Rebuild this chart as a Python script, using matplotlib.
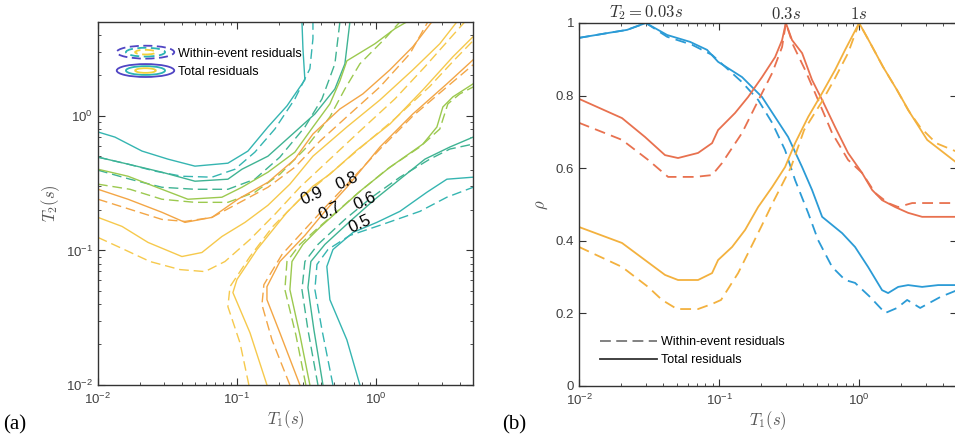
import numpy as np
import matplotlib
matplotlib.use("Agg")
import matplotlib.pyplot as plt
import matplotlib.transforms as mtransforms
from matplotlib.lines import Line2D
from matplotlib.patches import Ellipse
from matplotlib.legend_handler import HandlerBase
from matplotlib.ticker import LogLocator, NullFormatter, FixedLocator, FuncFormatter

plt.rcParams["font.family"] = ["Liberation Sans", "DejaVu Sans"]
plt.rcParams["mathtext.fontset"] = "cm"

# ---------------- panel (a): contour lines, points are (log10 T1, log10 T2)
total_05_upper = [(-2.0, -0.119), (-1.878, -0.157), (-1.683, -0.261), (-1.496, -0.321), (-1.302, -0.373),
                  (-1.065, -0.351), (-0.921, -0.261), (-0.777, -0.082), (-0.640, 0.075), (-0.511, 0.269),
                  (-0.525, 0.500), (-0.532, 0.70)]
within_05_upper = [(-2.0, -0.306), (-1.784, -0.358), (-1.590, -0.410), (-1.396, -0.448), (-1.180, -0.455),
                   (-1.014, -0.396), (-0.871, -0.269), (-0.727, -0.097), (-0.583, 0.127), (-0.475, 0.351),
                   (-0.453, 0.575), (-0.453, 0.70)]
total_06_upper = [(-2.0, -0.306), (-1.784, -0.358), (-1.540, -0.418), (-1.302, -0.485), (-1.065, -0.470),
                  (-0.964, -0.396), (-0.777, -0.299), (-0.583, -0.119), (-0.439, 0.015), (-0.295, 0.201),
                  (-0.223, 0.388), (-0.187, 0.70)]
within_06_upper = [(-2.0, -0.403), (-1.770, -0.470), (-1.540, -0.530), (-1.302, -0.545), (-1.065, -0.545),
                   (-0.871, -0.470), (-0.691, -0.306), (-0.511, -0.082), (-0.388, 0.127), (-0.295, 0.388),
                   (-0.259, 0.70)]
total_07_upper = [(-2.0, -0.396), (-1.784, -0.448), (-1.540, -0.545), (-1.353, -0.619), (-1.108, -0.604),
                  (-0.964, -0.530), (-0.777, -0.418), (-0.583, -0.269), (-0.453, -0.082), (-0.331, 0.090),
                  (-0.259, 0.261), (-0.209, 0.410), (-0.007, 0.537), (0.137, 0.649), (0.223, 0.70)]
within_07_upper = [(-2.0, -0.507), (-1.770, -0.545), (-1.540, -0.619), (-1.302, -0.642), (-1.065, -0.642),
                   (-0.871, -0.567), (-0.691, -0.433), (-0.511, -0.246), (-0.331, -0.007), (-0.223, 0.201),
                   (-0.115, 0.388), (0.065, 0.575), (0.173, 0.70)]
total_08_upper = [(-2.0, -0.545), (-1.784, -0.619), (-1.540, -0.716), (-1.374, -0.791), (-1.180, -0.754),
                  (-0.993, -0.619), (-0.777, -0.493), (-0.583, -0.321), (-0.453, -0.134), (-0.259, 0.052),
                  (-0.094, 0.164), (0.101, 0.343), (0.266, 0.515), (0.403, 0.70)]
within_08_upper = [(-2.0, -0.619), (-1.770, -0.694), (-1.540, -0.769), (-1.374, -0.784), (-1.180, -0.754),
                   (-0.978, -0.642), (-0.777, -0.530), (-0.583, -0.381), (-0.403, -0.187), (-0.187, 0.015),
                   (0.029, 0.216), (0.245, 0.463), (0.374, 0.70)]
total_09_upper = [(-2.0, -0.754), (-1.827, -0.821), (-1.640, -0.940), (-1.396, -1.045), (-1.252, -1.015),
                  (-1.108, -0.896), (-0.942, -0.791), (-0.777, -0.664), (-0.619, -0.507), (-0.453, -0.299),
                  (-0.209, -0.082), (0.029, 0.119), (0.266, 0.343), (0.460, 0.537), (0.583, 0.70)]
within_09_upper = [(-2.0, -0.903), (-1.842, -0.978), (-1.626, -1.082), (-1.410, -1.142), (-1.230, -1.157),
                   (-1.086, -1.082), (-0.906, -0.918), (-0.727, -0.731), (-0.547, -0.530), (-0.331, -0.321),
                   (-0.115, -0.112), (0.137, 0.127), (0.353, 0.366), (0.532, 0.575), (0.640, 0.70)]

total_05_lower = [(-0.115, -2.0), (-0.209, -1.664), (-0.331, -1.366), (-0.353, -1.119), (-0.309, -0.993),
                  (-0.165, -0.866), (0.007, -0.791), (0.173, -0.709), (0.367, -0.567), (0.511, -0.470),
                  (0.70, -0.455)]
within_05_lower = [(-0.309, -2.0), (-0.388, -1.590), (-0.439, -1.291), (-0.424, -1.104), (-0.345, -0.993),
                   (-0.187, -0.888), (0.029, -0.813), (0.317, -0.709), (0.511, -0.604), (0.70, -0.530)]
total_06_lower = [(-0.381, -2.0), (-0.446, -1.590), (-0.489, -1.276), (-0.468, -1.082), (-0.367, -0.955),
                  (-0.187, -0.784), (-0.007, -0.619), (0.173, -0.470), (0.353, -0.321), (0.532, -0.231),
                  (0.70, -0.157)]
within_06_lower = [(-0.417, -2.0), (-0.489, -1.590), (-0.532, -1.291), (-0.511, -1.082), (-0.417, -0.955),
                   (-0.223, -0.769), (-0.029, -0.604), (0.173, -0.455), (0.388, -0.321), (0.532, -0.246),
                   (0.70, -0.209)]
total_07_lower = [(-0.475, -2.0), (-0.547, -1.627), (-0.619, -1.291), (-0.604, -1.082), (-0.525, -0.955),
                  (-0.403, -0.828), (-0.259, -0.694), (-0.115, -0.560), (0.101, -0.381), (0.338, -0.209),
                  (0.439, -0.082), (0.482, 0.067), (0.554, 0.142), (0.70, 0.239)]
within_07_lower = [(-0.504, -2.0), (-0.576, -1.627), (-0.655, -1.291), (-0.640, -1.082), (-0.547, -0.955),
                   (-0.425, -0.840), (-0.280, -0.710), (-0.137, -0.580), (0.080, -0.396), (0.317, -0.230),
                   (0.460, -0.097), (0.518, 0.090), (0.604, 0.164), (0.70, 0.216)]
total_08_lower = [(-0.547, -2.0), (-0.691, -1.612), (-0.784, -1.366), (-0.784, -1.269), (-0.691, -1.082),
                  (-0.511, -0.888), (-0.367, -0.709), (-0.209, -0.530), (0.029, -0.231), (0.266, 0.015),
                  (0.511, 0.239), (0.70, 0.418)]
within_08_lower = [(-0.619, -2.0), (-0.748, -1.664), (-0.820, -1.403), (-0.806, -1.254), (-0.676, -1.030),
                   (-0.511, -0.843), (-0.345, -0.657), (-0.187, -0.485), (0.029, -0.246), (0.266, 0.0),
                   (0.511, 0.216), (0.70, 0.381)]
total_09_lower = [(-0.784, -2.0), (-0.906, -1.612), (-1.029, -1.313), (-1.0, -1.216), (-0.856, -0.993),
                  (-0.640, -0.716), (-0.453, -0.522), (-0.331, -0.433), (-0.137, -0.254), (0.101, -0.060),
                  (0.338, 0.194), (0.554, 0.440), (0.70, 0.590)]
within_09_lower = [(-0.914, -2.0), (-0.978, -1.687), (-1.065, -1.418), (-1.050, -1.269), (-0.906, -1.045),
                   (-0.741, -0.821), (-0.547, -0.619), (-0.331, -0.43), (-0.115, -0.24), (0.137, -0.02),
                   (0.388, 0.22), (0.568, 0.42), (0.70, 0.56)]

levels = [0.5, 0.6, 0.7, 0.8, 0.9]
level_colors = ["#35b5b1", "#3fb393", "#9cc94f", "#f3a646", "#f6c94c"]
total_upper = [total_05_upper, total_06_upper, total_07_upper, total_08_upper, total_09_upper]
total_lower = [total_05_lower, total_06_lower, total_07_lower, total_08_lower, total_09_lower]
within_upper = [within_05_upper, within_06_upper, within_07_upper, within_08_upper, within_09_upper]
within_lower = [within_05_lower, within_06_lower, within_07_lower, within_08_lower, within_09_lower]

# inline contour labels (log10 T1, log10 T2)
label_pos = [(-0.115, -0.806), (-0.079, -0.634), (-0.331, -0.709), (-0.209, -0.485), (-0.460, -0.597)]

# ---------------- panel (b): rho vs T1, points are (log10 T1, rho)
blue_total = [(-2.0, .959), (-1.8, .972), (-1.657, .981), (-1.523, 1.0), (-1.371, .967), (-1.207, .948),
              (-1.086, .926), (-1.007, .893), (-0.836, .851), (-0.693, .796), (-0.6, .741), (-0.507, .686),
              (-0.407, .603), (-0.336, .540), (-0.264, .466), (-0.121, .421), (-0.029, .383), (0.064, .328),
              (0.164, .264), (0.207, .256), (0.279, .273), (0.35, .278), (0.45, .273), (0.564, .278),
              (0.7, .278)]
blue_within = [(-2.0, .959), (-1.8, .972), (-1.657, .981), (-1.523, 1.0), (-1.371, .962), (-1.193, .940),
               (-1.05, .912), (-0.836, .837), (-0.721, .788), (-0.621, .725), (-0.529, .650), (-0.457, .567),
               (-0.364, .477), (-0.293, .402), (-0.193, .328), (-0.1, .292), (-0.029, .284), (0.079, .245),
               (0.186, .201), (0.271, .215), (0.343, .237), (0.436, .215), (0.579, .245), (0.7, .264)]
red_total = [(-2.0, .791), (-1.693, .738), (-1.529, .686), (-1.386, .636), (-1.293, .628), (-1.15, .642),
             (-1.05, .669), (-1.007, .705), (-0.886, .752), (-0.793, .796), (-0.693, .851), (-0.6, .906),
             (-0.55, .953), (-0.523, 1.0), (-0.479, .953), (-0.407, .917), (-0.336, .843), (-0.264, .788),
             (-0.171, .713), (-0.079, .642), (0.021, .587), (0.093, .540), (0.164, .512), (0.257, .493),
             (0.35, .477), (0.45, .466), (0.7, .466)]
red_within = [(-2.0, .725), (-1.693, .678), (-1.507, .623), (-1.364, .576), (-1.171, .576), (-1.05, .581),
              (-0.979, .614), (-0.836, .697), (-0.743, .769), (-0.621, .862), (-0.55, .934), (-0.523, 1.0),
              (-0.471, .939), (-0.386, .871), (-0.293, .788), (-0.193, .697), (-0.079, .623), (0.021, .587),
              (0.114, .532), (0.207, .504), (0.279, .493), (0.379, .504), (0.45, .504), (0.7, .504)]
yellow_total = [(-2.0, .438), (-1.693, .394), (-1.529, .347), (-1.386, .306), (-1.293, .292), (-1.15, .292),
                (-1.05, .311), (-1.007, .347), (-0.907, .383), (-0.814, .430), (-0.721, .493), (-0.621, .548),
                (-0.529, .603), (-0.457, .669), (-0.364, .741), (-0.264, .807), (-0.171, .871), (-0.1, .926),
                (0.0, 1.0), (0.079, .945), (0.171, .879), (0.271, .815), (0.364, .752), (0.486, .678),
                (0.7, .614)]
yellow_within = [(-2.0, .383), (-1.693, .328), (-1.507, .273), (-1.407, .237), (-1.3, .212), (-1.15, .212),
                 (-1.05, .226), (-0.986, .237), (-0.864, .311), (-0.793, .366), (-0.7, .438), (-0.607, .512),
                 (-0.486, .603), (-0.393, .705), (-0.271, .780), (-0.179, .843), (-0.079, .917), (0.0, 1.0),
                 (0.079, .945), (0.171, .879), (0.271, .815), (0.35, .760), (0.436, .713), (0.55, .669),
                 (0.7, .645)]
peak_t2 = [0.03, 0.3, 1.0]
peak_text = [r"$T_2=0.03s$", r"$0.3s$", r"$1s$"]
curve_colors = ["#2b9bd6", "#e8714f", "#f3b13e"]

axis_col = "#333333"
dash = (0, (7, 3.5))


class ContourIcon(HandlerBase):
    def __init__(self, ls):
        super().__init__()
        self.ls = ls

    def create_artists(self, legend, orig_handle, xdescent, ydescent, width, height, fontsize, trans):
        cx = 0.5 * width - xdescent
        cy = 0.5 * height - ydescent
        arts = []
        for frac, col in zip([1.0, 0.68, 0.36], ["#5045c4", "#2cb4b4", "#f2d23c"]):
            arts.append(Ellipse((cx, cy), width * frac, height * 1.35 * frac, fill=False, edgecolor=col,
                                linestyle=self.ls, linewidth=1.3, transform=trans))
        return arts


def style_axes(ax):
    for s in ax.spines.values():
        s.set_color(axis_col)
        s.set_linewidth(1.0)
    ax.tick_params(which="both", direction="in", top=True, right=True, colors=axis_col,
                   labelsize=9.5, labelcolor="#404040")
    ax.tick_params(which="major", length=5)
    ax.tick_params(which="minor", length=2.5)
    ax.tick_params(axis="x", pad=5)


fig = plt.figure(figsize=(9.55, 4.42), dpi=100)

# ---------------- (a)
ax1 = fig.add_axes([0.1026, 0.129, 0.3927, 0.8213])
for k in range(len(levels)):
    for pts, ls in ((total_upper[k], "-"), (total_lower[k], "-"),
                    (within_upper[k], dash), (within_lower[k], dash)):
        a = np.array(pts)
        ax1.plot(10 ** a[:, 0], 10 ** a[:, 1], color=level_colors[k], linestyle=ls, lw=1.0)
for lev, (lx, ly) in zip(levels, label_pos):
    ax1.text(10 ** lx, 10 ** ly, f"{lev:g}", fontsize=12, rotation=25, ha="center", va="center",
             color="black")
ax1.set_xscale("log")
ax1.set_yscale("log")
ax1.set_xlim(0.01, 5)
ax1.set_ylim(0.01, 5)
for axis in (ax1.xaxis, ax1.yaxis):
    axis.set_major_locator(LogLocator(base=10))
    axis.set_minor_locator(LogLocator(base=10, subs=np.arange(2, 10)))
    axis.set_minor_formatter(NullFormatter())
style_axes(ax1)
ax1.set_xlabel(r"$T_1(s)$", fontsize=12, color="#555555", labelpad=1)
ax1.set_ylabel(r"$T_2(s)$", fontsize=12, color="#555555", labelpad=3)
h_w = Line2D([], [])
h_t = Line2D([], [])
ax1.legend([h_w, h_t], ["Within-event residuals", "Total residuals"],
           handler_map={h_w: ContourIcon((0, (5, 2.5))), h_t: ContourIcon("-")},
           loc="upper left", bbox_to_anchor=(0.05, 0.93), frameon=False, fontsize=9,
           handlelength=4.6, handleheight=0.8, handletextpad=0.3, labelspacing=0.5,
           borderpad=0, borderaxespad=0)

# ---------------- (b)
ax2 = fig.add_axes([0.6063, 0.1267, 0.3958, 0.8213])
for col, tot, wit in zip(curve_colors, [blue_total, red_total, yellow_total],
                         [blue_within, red_within, yellow_within]):
    a = np.array(tot)
    ax2.plot(10 ** a[:, 0], a[:, 1], color=col, lw=1.3)
    b = np.array(wit)
    ax2.plot(10 ** b[:, 0], b[:, 1], color=col, lw=1.3, linestyle=(0, (6, 3.5)))
ax2.set_xscale("log")
ax2.set_xlim(0.01, 5)
ax2.set_ylim(0, 1)
ax2.xaxis.set_major_locator(LogLocator(base=10))
ax2.xaxis.set_minor_locator(LogLocator(base=10, subs=np.arange(2, 10)))
ax2.xaxis.set_minor_formatter(NullFormatter())
ax2.yaxis.set_major_locator(FixedLocator([0, 0.2, 0.4, 0.6, 0.8, 1.0]))
ax2.yaxis.set_major_formatter(FuncFormatter(lambda v, p: f"{v:g}"))
style_axes(ax2)
ax2.set_xlabel(r"$T_1(s)$", fontsize=12, color="#555555", labelpad=1)
ax2.set_ylabel(r"$\rho$", fontsize=12, color="#555555", labelpad=4)
trans = mtransforms.blended_transform_factory(ax2.transData, ax2.transAxes)
for t2, txt in zip(peak_t2, peak_text):
    ax2.text(t2, 1.003, txt, transform=trans, ha="center", va="bottom", fontsize=12, color="#333333")
lw_ = Line2D([], [], color="#777777", lw=1.3, linestyle=(0, (6, 3)))
lt_ = Line2D([], [], color="#333333", lw=1.3)
ax2.legend([lw_, lt_], ["Within-event residuals", "Total residuals"], loc="lower left",
           bbox_to_anchor=(0.055, 0.055), frameon=False, fontsize=9, handlelength=4.6,
           handletextpad=0.3, labelspacing=0.45, borderpad=0, borderaxespad=0)

fig.text(0.003, 1 - 425 / 442, "(a)", fontsize=15, family="Liberation Serif", va="center", ha="left")
fig.text(502 / 955, 1 - 425 / 442, "(b)", fontsize=15, family="Liberation Serif", va="center", ha="left")

fig.savefig("out.png", dpi=100)
